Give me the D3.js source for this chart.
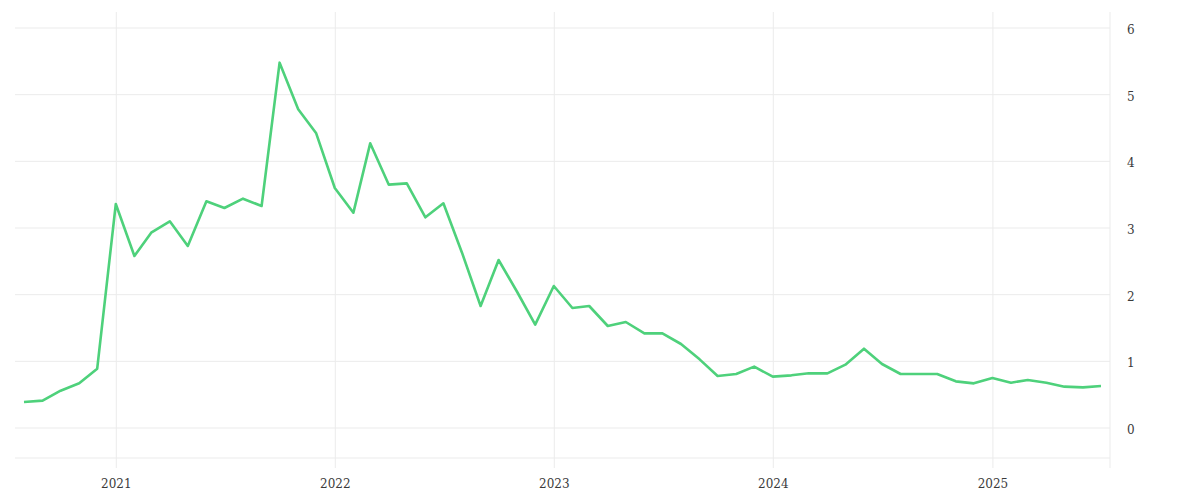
<!DOCTYPE html>
<html>
<head>
<meta charset="utf-8">
<script src="https://cdn.jsdelivr.net/npm/d3@7"></script>
<style>
  body { margin: 0; background: #fff; }
  svg { display: block; }
  .tick text { font-family: "DejaVu Serif", serif; font-size: 12px; fill: #3a3a3a; }
</style>
</head>
<body>
<svg id="chart" width="1200" height="500"></svg>
<script>
// monthly values, Aug 2020 .. Jul 2025
const startMonth = "2020-08-01";
const values = [
  0.39, 0.41, 0.56, 0.67, 0.89,                                 // 2020 Aug-Dec
  3.36, 2.58, 2.93, 3.10, 2.73, 3.40, 3.30, 3.44, 3.33, 5.48, 4.78, 4.42, // 2021
  3.60, 3.23, 4.27, 3.65, 3.67, 3.16, 3.37, 2.63, 1.83, 2.52, 2.04, 1.55, // 2022
  2.13, 1.80, 1.83, 1.53, 1.59, 1.42, 1.42, 1.26, 1.03, 0.78, 0.81, 0.92, // 2023
  0.77, 0.79, 0.82, 0.82, 0.95, 1.19, 0.96, 0.81, 0.81, 0.81, 0.70, 0.67, // 2024
  0.75, 0.68, 0.72, 0.68, 0.62, 0.61, 0.63                      // 2025 Jan-Jul
];
const yTicks = [0, 1, 2, 3, 4, 5, 6];

const parse = d3.timeParse("%Y-%m-%d");
const dates = values.map((v, i) => d3.timeMonth.offset(parse(startMonth), i));
const data = values.map((v, i) => ({date: dates[i], value: v}));

const m = {left: 15, right: 1110, top: 12, bottom: 458};
const gridColor = "#ebebeb";

const svg = d3.select("#chart");

const x = d3.scaleTime()
  .domain([d3.timeDay.offset(dates[0], -15), d3.timeDay.offset(dates[dates.length - 1], 15)])
  .range([m.left, m.right]);

const y = d3.scaleLinear()
  .domain([-0.45, 6.24])
  .range([m.bottom, m.top]);

// horizontal grid
svg.append("g")
  .selectAll("line")
  .data(yTicks)
  .join("line")
  .attr("x1", m.left).attr("x2", m.right)
  .attr("y1", d => y(d)).attr("y2", d => y(d))
  .attr("stroke", gridColor);

svg.append("line")
  .attr("x1", m.left).attr("x2", m.right)
  .attr("y1", m.bottom).attr("y2", m.bottom)
  .attr("stroke", gridColor);

// x axis, ticks reach up as vertical grid
const xAxis = svg.append("g")
  .attr("transform", `translate(0,${m.bottom + 10})`)
  .call(d3.axisBottom(x)
    .ticks(d3.timeYear.every(1))
    .tickFormat(d3.timeFormat("%Y"))
    .tickSize(-(m.bottom + 10 - m.top))
    .tickPadding(11));
xAxis.select(".domain").remove();
xAxis.selectAll(".tick line").attr("stroke", gridColor);

// right axis line
svg.append("line")
  .attr("x1", m.right).attr("x2", m.right)
  .attr("y1", m.top).attr("y2", m.bottom + 10)
  .attr("stroke", gridColor);

const yAxis = svg.append("g")
  .attr("transform", `translate(${m.right},0)`)
  .call(d3.axisRight(y).tickValues(yTicks).tickFormat(d3.format("d")).tickSize(0).tickPadding(17));
yAxis.select(".domain").remove();
yAxis.selectAll(".tick text").attr("dy", "0.45em");

// series line
svg.append("path")
  .datum(data)
  .attr("fill", "none")
  .attr("stroke", "#4ed17b")
  .attr("stroke-width", 2.6)
  .attr("stroke-linejoin", "round")
  .attr("d", d3.line().x(d => x(d.date)).y(d => y(d.value)));
</script>
</body>
</html>
